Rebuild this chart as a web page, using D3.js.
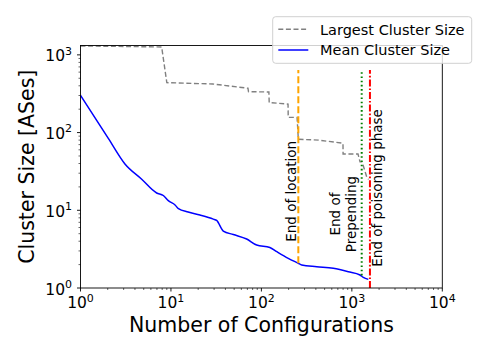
<!DOCTYPE html>
<html>
<head>
<meta charset="utf-8">
<script src="https://cdn.jsdelivr.net/npm/d3@7/dist/d3.min.js"></script>
<style>
  html, body { margin: 0; padding: 0; background: #fff; }
  svg { display: block; font-family: "DejaVu Sans", sans-serif; }
</style>
</head>
<body>
<svg id="chart" width="485" height="339"></svg>
<script>
// ---- data ----
const largestX = [1, 7.9, 9.0, 29, 71, 72, 121, 122, 197, 198, 248, 256, 430, 798, 800, 1170, 1231, 1297, 1472, 1530];
const largestY = [1303, 1264, 439, 422, 372, 336, 333, 243, 233, 157, 157, 82, 80, 73, 53, 53, 42, 42, 26, 25];

const meanX = [1, 2.03, 3.10, 4.75, 6.95, 8.23, 9.35, 11.1, 12.1, 15.5, 20.9, 29.4, 32, 37.9, 48.9, 68.7, 88.6, 124, 148, 198, 256, 279, 409, 624, 914, 1231, 1339, 1520];
const meanY = [302, 84, 39.4, 25.1, 16.7, 15.5, 13.3, 11.7, 10.5, 9.5, 8.7, 7.7, 7.4, 5.41, 4.88, 4.27, 3.57, 3.32, 2.93, 2.41, 2.08, 1.98, 1.88, 1.79, 1.62, 1.47, 1.37, 1.29];

const phaseX = [256, 1285, 1585];
const phaseBottom = [2.08, 1.45, 1];
const phaseTop = 640;
const phaseLabels = [["End of location"], ["End of", "Prepending"], ["End of poisoning phase"]];
const phaseLabelY = [3.94, 2.5, 1.88];
const phaseColors = ["orange", "green", "red"];

const seriesNames = ["Largest Cluster Size", "Mean Cluster Size"];
const xDecades = [0, 1, 2, 3, 4];
const yDecades = [0, 1, 2, 3];
const xDomain = [1, 10000];
const yDomain = [1, 1320];
const xLabel = "Number of Configurations";
const yLabel = "Cluster Size [ASes]";

// ---- layout ----
const L = 80.5, R = 442.3, T = 45.5, B = 288;
const svg = d3.select("#chart");
const x = d3.scaleLog().domain(xDomain).range([L, R]);
const y = d3.scaleLog().domain(yDomain).range([B, T]);

function minorTicks(dom) {
  const out = [];
  for (let e = Math.floor(Math.log10(dom[0])); e <= Math.ceil(Math.log10(dom[1])); e++) {
    for (let m = 2; m <= 9; m++) {
      const v = m * Math.pow(10, e);
      if (v > dom[0] && v < dom[1]) out.push(v);
    }
  }
  return out;
}
const g = svg.append("g");

// lines
const line = d3.line().x(d => x(d[0])).y(d => y(d[1]));
g.append("path")
  .datum(largestX.map((v, i) => [v, largestY[i]]))
  .attr("d", line).attr("fill", "none")
  .attr("stroke", "gray").attr("stroke-width", 1.4)
  .attr("stroke-dasharray", "5,2.6");
g.append("path")
  .datum(meanX.map((v, i) => [v, meanY[i]]))
  .attr("d", d3.line().x(d => x(d[0])).y(d => y(d[1])).curve(d3.curveMonotoneX))
  .attr("fill", "none")
  .attr("stroke", "blue").attr("stroke-width", 1.5);

// phase lines
const dashes = ["7,3", "1.6,2.6", "7,2,1.6,2"];
phaseX.forEach((px, i) => {
  g.append("line")
    .attr("x1", x(px)).attr("x2", x(px))
    .attr("y1", y(phaseBottom[i])).attr("y2", y(phaseTop))
    .attr("stroke", phaseColors[i]).attr("stroke-width", 2)
    .attr("stroke-dasharray", dashes[i]);
});

// phase labels
const labelOffset = [-2.6, -5.3, 11.7];
phaseX.forEach((px, i) => {
  const lines = phaseLabels[i];
  const cx = x(px) + labelOffset[i];
  const cy = y(phaseLabelY[i]);
  lines.forEach((t, j) => {
    const bx = cx - (lines.length - 1 - j) * 16;
    const anchor = lines.length > 1 ? "middle" : "start";
    g.append("text")
      .attr("transform", `translate(${bx},${lines.length > 1 ? 214 : cy}) rotate(-90)`)
      .attr("text-anchor", anchor)
      .attr("font-size", 13.5)
      .attr("fill", "#000")
      .text(t);
  });
});

// spines
g.append("rect").attr("x", L).attr("y", T).attr("width", R - L).attr("height", B - T)
  .attr("fill", "none").attr("stroke", "#000").attr("stroke-width", 0.9);

// ticks
const tk = svg.append("g").attr("stroke", "#000").attr("stroke-width", 0.9);
xDecades.forEach(e => tk.append("line").attr("x1", x(10 ** e)).attr("x2", x(10 ** e)).attr("y1", B).attr("y2", B + 3.5));
minorTicks(xDomain).forEach(v => tk.append("line").attr("x1", x(v)).attr("x2", x(v)).attr("y1", B).attr("y2", B + 2).attr("stroke-width", 0.6));
yDecades.forEach(e => tk.append("line").attr("y1", y(10 ** e)).attr("y2", y(10 ** e)).attr("x1", L).attr("x2", L - 3.5));
minorTicks(yDomain).forEach(v => tk.append("line").attr("y1", y(v)).attr("y2", y(v)).attr("x1", L).attr("x2", L - 2).attr("stroke-width", 0.6));

// tick labels
function powLabel(sel, e) {
  sel.append("tspan").attr("font-size", 15.5).text("10");
  sel.append("tspan").attr("font-size", 11).attr("dy", -6.7).text(String(e));
}
xDecades.forEach(e => {
  const t = svg.append("text").attr("x", x(10 ** e)).attr("y", 308.3)
    .attr("text-anchor", "middle").attr("fill", "#000");
  powLabel(t, e);
});
yDecades.forEach(e => {
  const t = svg.append("text").attr("x", L - 8.5).attr("y", y(10 ** e) + 6.5)
    .attr("text-anchor", "end").attr("fill", "#000");
  powLabel(t, e);
});

// axis labels
svg.append("text").attr("x", (L + R) / 2).attr("y", 332).attr("text-anchor", "middle")
  .attr("font-size", 20.5).attr("fill", "#000").text(xLabel);
svg.append("text").attr("transform", `translate(33.5,${(T + B) / 2}) rotate(-90)`)
  .attr("text-anchor", "middle").attr("font-size", 20.5).attr("fill", "#000").text(yLabel);

// legend
const lg = svg.append("g");
lg.append("rect").attr("x", 272.7).attr("y", 16.7).attr("width", 199).attr("height", 46.6)
  .attr("rx", 3).attr("fill", "#fff").attr("fill-opacity", 0.8)
  .attr("stroke", "#d0d0d0").attr("stroke-width", 1);
const legStyles = [{ c: "gray", d: "5,2.6", w: 1.4 }, { c: "blue", d: null, w: 1.5 }];
seriesNames.forEach((n, i) => {
  const cy = 29.3 + i * 20.7;
  const l = lg.append("line").attr("x1", 278.3).attr("x2", 308.3).attr("y1", cy).attr("y2", cy)
    .attr("stroke", legStyles[i].c).attr("stroke-width", legStyles[i].w);
  if (legStyles[i].d) l.attr("stroke-dasharray", legStyles[i].d);
  lg.append("text").attr("x", 320).attr("y", cy + 5.2).attr("font-size", 14.5)
    .attr("fill", "#000").text(n);
});
</script>
</body>
</html>
